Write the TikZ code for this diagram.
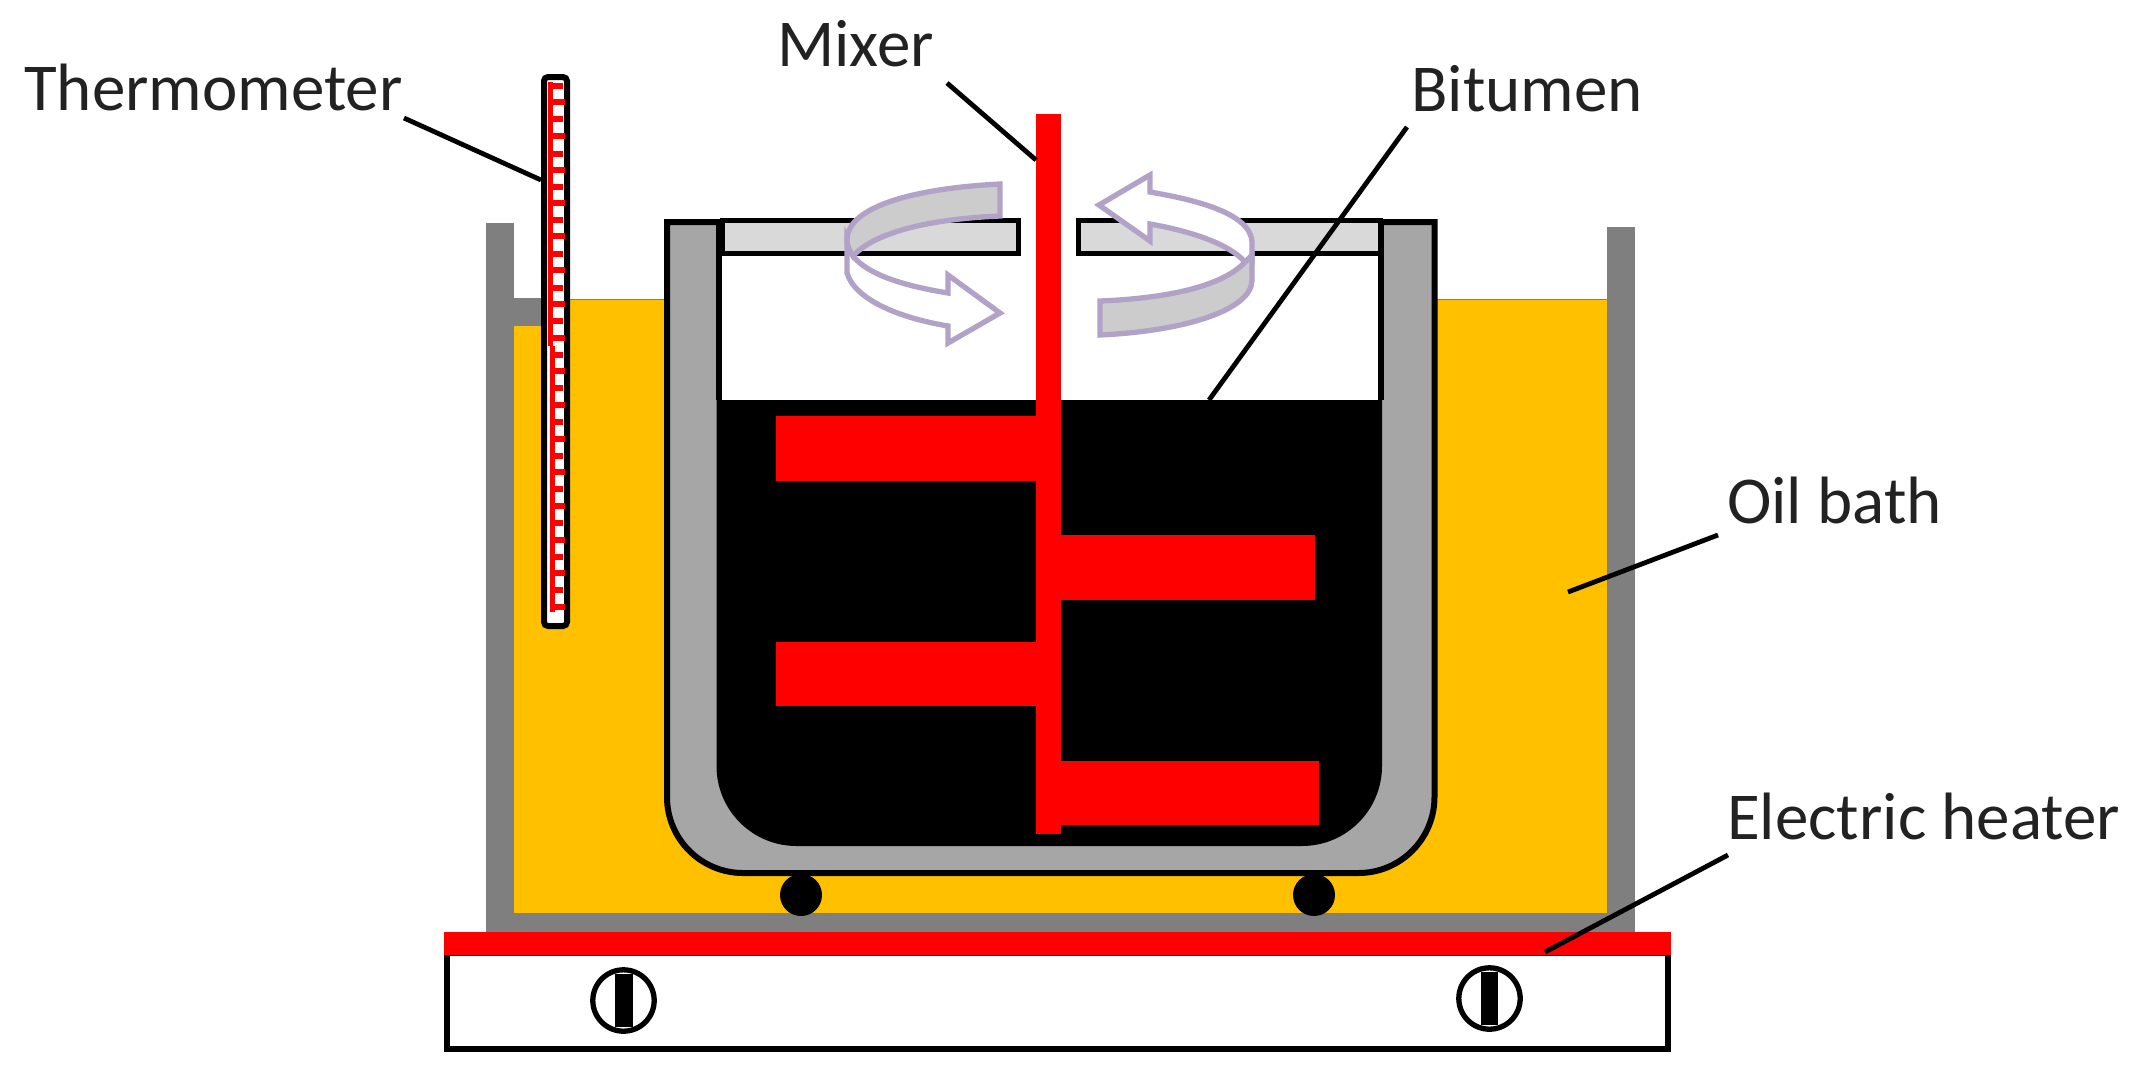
\documentclass[tikz,border=0pt]{standalone}
\usepackage{fontspec}
\setmainfont{Carlito}
\definecolor{bathgrey}{HTML}{7F7F7F}
\definecolor{oil}{HTML}{FFC000}
\definecolor{potgrey}{HTML}{A6A6A6}
\definecolor{lidgrey}{HTML}{D9D9D9}
\definecolor{ribbon}{HTML}{CCCCCC}
\definecolor{arrowline}{HTML}{B2A2C7}
\definecolor{textblack}{HTML}{222222}
\tikzset{
  label text/.style={font=\fontsize{67}{67}\selectfont, text=textblack, inner sep=0pt, anchor=base west},
  leader/.style={draw=black, line width=4.8pt},
  wallfill/.style={fill=bathgrey, draw=none},
  redfill/.style={fill=red, draw=none},
  outline/.style={draw=black, line width=6pt, line join=miter},
  arrowstroke/.style={draw=arrowline, line width=5.3pt, line join=miter},
  tick/.style={draw=red, line width=5.2pt},
}
\begin{document}
\begin{tikzpicture}[x=1pt,y=-1pt]
\useasboundingbox (0,0) rectangle (2142,1072);
\fill[white] (0,0) rectangle (2142,1072);
% oil
\fill[oil] (514,326) rectangle (1607,913);
\fill[oil] (560,299) rectangle (1607,326);
\draw[bathgrey, line width=1pt] (570,299) -- (664,299);
\draw[bathgrey, line width=1pt] (1437,299) -- (1607,299);
% bath walls
\fill[wallfill] (486,223) rectangle (514,932);
\fill[wallfill] (1607,227) rectangle (1635,932);
\fill[wallfill] (486,913) rectangle (1635,932);
\fill[wallfill] (514,298) rectangle (545,326);
% thermometer
\draw[black, fill=white, line width=6pt, rounded corners=4pt] (544,77) rectangle (567,626);
\fill[redfill] (548,82) rectangle (553,346);
\fill[redfill] (549.5,346) rectangle (555,612);
\foreach \ty [count=\ti] in {86,102,119,136,154,170,187,203,220,236,254,270,288,304,321,338,355,371,388,405,422,439,456,472,489,506,523,540,557,573,590,607}{
  \pgfmathparse{int(mod(\ti,2))}
  \ifnum\pgfmathresult=1
    \draw[tick] (550,\ty) -- (563,\ty);
  \else
    \draw[tick] (550,\ty) -- (564.5,\ty);
  \fi
}
% pot: solid body, then the air space and the bitumen
\path[fill=potgrey] (667,222) -- (1434.5,222) -- (1434.5,797) arc[start angle=0,end angle=90,radius=76] -- (743,873) arc[start angle=90,end angle=180,radius=76] -- cycle;
\fill[white] (718.5,222) rectangle (1380.5,400);
\fill[black] (716.5,400) -- (1382,400) -- (1382,766) arc[start angle=0,end angle=90,radius=80] -- (796.5,846) arc[start angle=90,end angle=180,radius=80] -- cycle;
\draw[outline] (718.5,219) -- (718.5,222) -- (667,222) -- (667,797) arc[start angle=180,end angle=90,radius=76] -- (1358.5,873) arc[start angle=90,end angle=0,radius=76] -- (1434.5,222) -- (1380.5,222);
\draw[outline] (718.5,219) -- (718.5,400);
\draw[outline] (1380.5,219) -- (1380.5,400);
% lid
\draw[draw=black, fill=lidgrey, line width=5pt] (722,220.5) rectangle (1018.7,253.5);
\draw[draw=black, fill=lidgrey, line width=5pt] (1078.3,220.5) rectangle (1380,253.5);
% mixer
\fill[redfill] (1036,114) rectangle (1061,834);
\fill[redfill] (776,416) rectangle (1036,481);
\fill[redfill] (1061,535) rectangle (1315,600);
\fill[redfill] (776,642) rectangle (1036,706);
\fill[redfill] (1061,761) rectangle (1319,825);
% feet
\fill[black] (801,895) circle[radius=21];
\fill[black] (1314,895) circle[radius=21];
% heater
\draw[black, fill=white, line width=6pt] (447,953) rectangle (1668,1049);
\fill[redfill] (444,932) rectangle (1671,955);
\draw[black, line width=5.3pt] (623.5,1000.5) circle[radius=30.7];
\fill[black] (614.5,974) rectangle (632.5,1027);
\draw[black, line width=5.3pt] (1489.5,998.5) circle[radius=30.7];
\fill[black] (1480.5,972) rectangle (1497.5,1025);
% rotation arrows
\path[fill=white,arrowstroke] (847,240) -- (847,273) .. controls (855,300) and (900,318) .. (948,326) -- (948,343) -- (1000,313) -- (948,275) -- (948,293) .. controls (905,286) and (868,275) .. (853,256) -- cycle;
\path[fill=ribbon,arrowstroke] (1000,184) -- (1000,216) .. controls (930,219) and (875,232) .. (853,256) .. controls (849,250) and (847,245) .. (847,240) .. controls (847,205) and (920,188) .. (1000,184) -- cycle;
\path[fill=white,arrowstroke] (1252,243) -- (1252,262) -- (1245,262) .. controls (1230,245) and (1195,232) .. (1150,224) -- (1150,241) -- (1099,205) -- (1150,175) -- (1150,192) .. controls (1190,199) and (1252,212) .. (1252,243) -- cycle;
\path[fill=ribbon,arrowstroke] (1100,301) .. controls (1175,298) and (1225,284) .. (1245,262) -- (1252,255) -- (1252,280) .. controls (1252,310) and (1185,331) .. (1100,335) -- cycle;
% labels and leaders
\node[label text] (thermolabel) at (24,110.5) {Thermometer};
\node[label text] (mixerlabel) at (777,66.5) {Mixer};
\node[label text] (bitumenlabel) at (1411,111.5) {Bitumen};
\node[label text] (oillabel) at (1727,523.5) {Oil bath};
\node[label text] (heaterlabel) at (1727,839.5) {Electric heater};
\coordinate (tA) at (404,118); \coordinate (tB) at (541,180);
\coordinate (mA) at (947,83); \coordinate (mB) at (1036,160);
\coordinate (bA) at (1407,127); \coordinate (bB) at (1209,400);
\coordinate (oA) at (1718,535); \coordinate (oB) at (1568,592);
\coordinate (hA) at (1728,855); \coordinate (hB) at (1545,952);
\draw[leader] (tA) -- (tB);
\draw[leader] (mA) -- (mB);
\draw[leader] (bA) -- (bB);
\draw[leader] (oA) -- (oB);
\draw[leader] (hA) -- (hB);
\end{tikzpicture}
\end{document}
